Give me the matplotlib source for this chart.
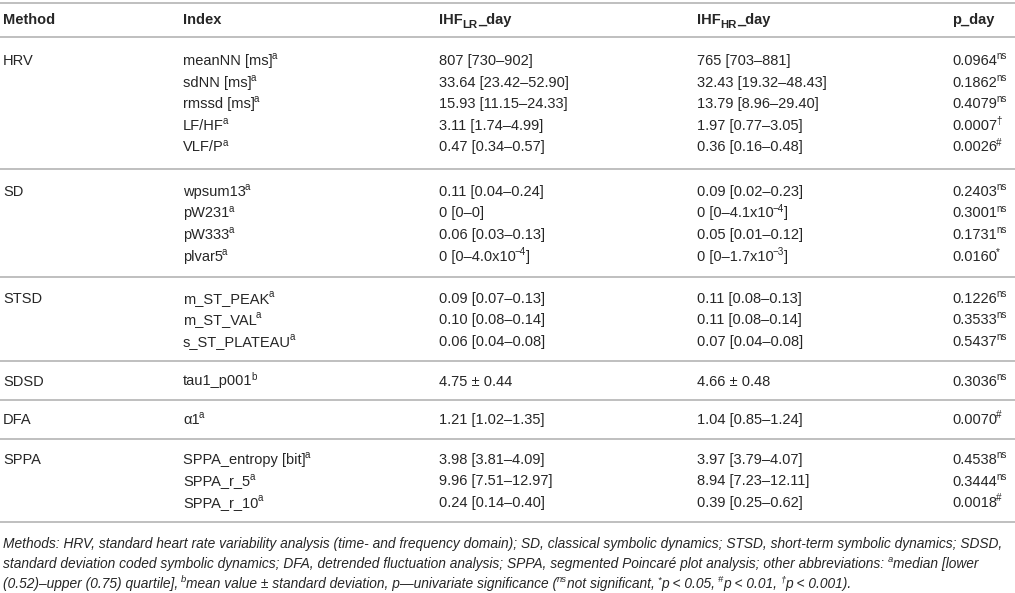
import re
import matplotlib
matplotlib.use('Agg')
import matplotlib.pyplot as plt
from matplotlib.lines import Line2D
from matplotlib.font_manager import FontProperties, findfont, get_font

try:
    from matplotlib.ft2font import Kerning
    KMODE = Kerning.DEFAULT
except Exception:  # older matplotlib
    KMODE = 0

# ---------------- data ----------------
methods = ['HRV', 'SD', 'STSD', 'SDSD', 'DFA', 'SPPA']
group_sizes = [5, 4, 3, 1, 1, 3]

indices = ['meanNN [ms]', 'sdNN [ms]', 'rmssd [ms]', 'LF/HF', 'VLF/P',
           'wpsum13', 'pW231', 'pW333', 'plvar5',
           'm_ST_PEAK', 'm_ST_VAL', 's_ST_PLATEAU',
           'tau1_p001',
           'α1',
           'SPPA_entropy [bit]', 'SPPA_r_5', 'SPPA_r_10']
index_notes = ['a', 'a', 'a', 'a', 'a',
               'a', 'a', 'a', 'a',
               'a', 'a', 'a',
               'b',
               'a',
               'a', 'a', 'a']

ihf_lr_day = ['807 [730–902]', '33.64 [23.42–52.90]', '15.93 [11.15–24.33]',
              '3.11 [1.74–4.99]', '0.47 [0.34–0.57]',
              '0.11 [0.04–0.24]', '0 [0–0]', '0.06 [0.03–0.13]', '0 [0–4.0x10^{−4}]',
              '0.09 [0.07–0.13]', '0.10 [0.08–0.14]', '0.06 [0.04–0.08]',
              '4.75 ± 0.44',
              '1.21 [1.02–1.35]',
              '3.98 [3.81–4.09]', '9.96 [7.51–12.97]', '0.24 [0.14–0.40]']
ihf_hr_day = ['765 [703–881]', '32.43 [19.32–48.43]', '13.79 [8.96–29.40]',
              '1.97 [0.77–3.05]', '0.36 [0.16–0.48]',
              '0.09 [0.02–0.23]', '0 [0–4.1x10^{−4}]', '0.05 [0.01–0.12]', '0 [0–1.7x10^{−3}]',
              '0.11 [0.08–0.13]', '0.11 [0.08–0.14]', '0.07 [0.04–0.08]',
              '4.66 ± 0.48',
              '1.04 [0.85–1.24]',
              '3.97 [3.79–4.07]', '8.94 [7.23–12.11]', '0.39 [0.25–0.62]']
p_day = ['0.0964', '0.1862', '0.4079', '0.0007', '0.0026',
         '0.2403', '0.3001', '0.1731', '0.0160',
         '0.1226', '0.3533', '0.5437',
         '0.3036',
         '0.0070',
         '0.4538', '0.3444', '0.0018']
p_sig = ['ns', 'ns', 'ns', '†', '#',
         'ns', 'ns', 'ns', '*',
         'ns', 'ns', 'ns',
         'ns',
         '#',
         'ns', 'ns', '#']

headers = ['Method', 'Index', 'IHF_{LR}\\_day', 'IHF_{HR}\\_day', 'p\\_day']

footnote = [
    'Methods: HRV, standard heart rate variability analysis (time- and frequency domain); '
    'SD, classical symbolic dynamics; STSD, short-term symbolic dynamics; SDSD,',
    'standard deviation coded symbolic dynamics; DFA, detrended fluctuation analysis; '
    'SPPA, segmented Poincaré plot analysis; other abbreviations: ^{a}median [lower',
    '(0.52)–upper (0.75) quartile], ^{b}mean value ± standard deviation, p—univariate '
    'significance (^{ns}not significant, ^{*}p < 0.05, ^{#}p < 0.01, ^{†}p < 0.001).',
]

# ---------------- layout ----------------
W, H, DPI = 1015, 593, 100
FAMILY = 'Liberation Sans'
FONT = [FAMILY, 'DejaVu Sans']
TXT = '#262626'
RULE = '#b4b4b4'
FS = 10.5
FS_NOTE = 9.9
col_x = [3, 183, 439, 697, 952]
sep_y = [37, 169, 277, 361, 399.5, 438.5, 522]
top_y = 3
header_y = 19
pitch = 21.6
foot_y = [543, 563, 583]

fig = plt.figure(figsize=(W / DPI, H / DPI), dpi=DPI)

_paths = {}


def advance(s, size, weight='normal', style='normal'):
    key = (weight, style)
    if key not in _paths:
        _paths[key] = findfont(FontProperties(family=FAMILY, weight=weight, style=style))
    f = get_font(_paths[key])
    f.set_size(size, DPI)
    total = 0.0
    prev = None
    for c in s:
        gi = f.get_char_index(ord(c))
        if prev is not None:
            try:
                total += f.get_kerning(prev, gi, KMODE) / 64.0
            except Exception:
                pass
        total += f.load_char(ord(c)).linearHoriAdvance / 65536.0
        prev = gi
    return total


def put(x, y, s, size, weight='normal', style='normal'):
    fig.text(x / W, 1 - y / H, s, fontsize=size, family=FONT, color=TXT,
             fontweight=weight, fontstyle=style, ha='left', va='baseline')
    return x + advance(s, size, weight, style)


def rich(x, yc, s, size, weight='normal', style='normal'):
    """Draw text with ^{..} superscripts and _{..} subscripts; yc = visual row centre."""
    px = size * DPI / 72.0
    base = yc + 0.36 * px
    tokens = re.split(r'(\^\{[^}]*\}|(?<!\\)_\{[^}]*\})', s)
    for tok in tokens:
        if not tok:
            continue
        if tok.startswith('^{'):
            x = put(x - 0.8, base - 0.40 * px, tok[2:-1], size * 0.68, weight, style)
        elif tok.startswith('_{'):
            x = put(x, base + 0.24 * px, tok[2:-1], size * 0.78, weight, style)
        else:
            x = put(x, base, tok.replace('\\_', '_'), size, weight, style)
    return x


def hline(y, lw=1.2):
    fig.add_artist(Line2D([0, 1], [1 - y / H, 1 - y / H], color=RULE, lw=lw,
                          transform=fig.transFigure))


# rules
hline(top_y)
for y in sep_y:
    hline(y)

# header
for x, h in zip(col_x, headers):
    rich(x, header_y, h, FS, weight='bold')

# body
row = 0
for g, (m, n) in enumerate(zip(methods, group_sizes)):
    span = sep_y[g + 1] - sep_y[g]
    first = sep_y[g] + (span - (n - 1) * pitch) / 2.0
    rich(col_x[0], first, m, FS)
    for k in range(n):
        yc = first + k * pitch
        rich(col_x[1], yc, indices[row] + '^{' + index_notes[row] + '}', FS)
        rich(col_x[2], yc, ihf_lr_day[row], FS)
        rich(col_x[3], yc, ihf_hr_day[row], FS)
        rich(col_x[4], yc, p_day[row] + '^{' + p_sig[row] + '}', FS)
        row += 1

# footnote
for y, line in zip(foot_y, footnote):
    rich(col_x[0], y, line, FS_NOTE, style='italic')

fig.savefig('out.png', dpi=DPI)
